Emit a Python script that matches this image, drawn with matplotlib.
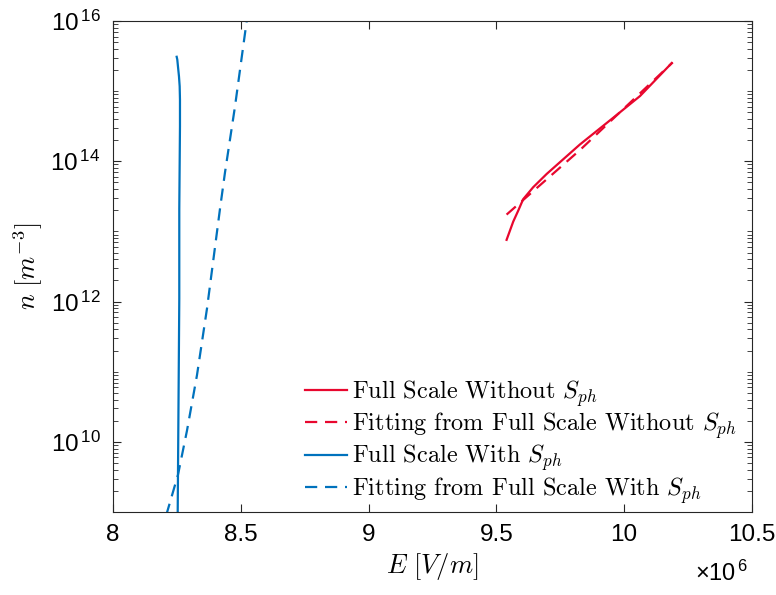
import numpy as np
import matplotlib
matplotlib.use("Agg")
import matplotlib.pyplot as plt
from matplotlib.ticker import FixedLocator, FuncFormatter, NullFormatter

plt.rcParams['mathtext.fontset'] = 'cm'
plt.rcParams['font.family'] = ['Liberation Sans', 'DejaVu Sans']

# electric field (V/m) and density (log10 of m^-3) for each curve
E_full_no_sph = [9.540e6, 9.553e6, 9.566e6, 9.586e6, 9.605e6, 9.644e6, 9.697e6,
                 9.827e6, 9.957e6, 10.062e6, 10.186e6]
logn_full_no_sph = [12.88, 13.01, 13.14, 13.30, 13.46, 13.63, 13.82,
                    14.24, 14.62, 14.93, 15.40]

E_fit_no_sph = [9.540e6, 9.830e6, 10.190e6]
logn_fit_no_sph = [13.24, 14.17, 15.41]

E_full_sph = [8.2531e6, 8.2594e6, 8.2594e6, 8.2621e6, 8.2621e6, 8.2609e6,
              8.2582e6, 8.2543e6, 8.2516e6, 8.2492e6]
logn_full_sph = [8.95, 12.04, 13.32, 14.50, 14.88, 15.07,
                 15.21, 15.35, 15.45, 15.49]

E_fit_sph = [8.2080e6, 8.2543e6, 8.2895e6, 8.3286e6, 8.3678e6, 8.4186e6,
             8.4382e6, 8.4773e6, 8.5250e6]
logn_fit_sph = [8.95, 9.53, 10.16, 10.95, 11.90, 13.32, 13.84, 14.78, 16.05]

red = '#E8072E'
blue = '#0072BD'
axis_col = '#262626'

fig = plt.figure(figsize=(7.76, 5.95), dpi=100)
ax = fig.add_axes([0.1456, 0.1395, 0.8234, 0.8252])

lw = 1.6
ax.plot(E_full_no_sph, 10 ** np.array(logn_full_no_sph), color=red, lw=lw,
        label=r'Full Scale Without $S_{ph}$')
ax.plot(E_fit_no_sph, 10 ** np.array(logn_fit_no_sph), color=red, lw=lw, dashes=(5.5, 3.5),
        label=r'Fitting from Full Scale Without $S_{ph}$')
ax.plot(E_full_sph, 10 ** np.array(logn_full_sph), color=blue, lw=lw,
        label=r'Full Scale With $S_{ph}$')
ax.plot(E_fit_sph, 10 ** np.array(logn_fit_sph), color=blue, lw=lw, dashes=(5.5, 3.5),
        label=r'Fitting from Full Scale With $S_{ph}$')

ax.set_yscale('log')
ax.set_xlim(8e6, 10.5e6)
ax.set_ylim(1e9, 1e16)

ax.xaxis.set_major_locator(FixedLocator(np.arange(8e6, 10.51e6, 0.5e6)))
ax.xaxis.set_major_formatter(FuncFormatter(lambda v, p: f'{v / 1e6:g}'))
ax.xaxis.set_minor_locator(FixedLocator([]))

majors = [1e10, 1e12, 1e14, 1e16]
minors = [k * 10.0 ** d for d in range(9, 16) for k in range(1, 10) if k * 10.0 ** d not in majors]
ax.yaxis.set_major_locator(FixedLocator(majors))
ax.yaxis.set_minor_locator(FixedLocator(minors))
ax.yaxis.set_major_formatter(FuncFormatter(
    lambda v, p: r'$\mathregular{10^{\,%d}}$' % round(np.log10(v))))
ax.yaxis.set_minor_formatter(NullFormatter())

ax.tick_params(which='both', direction='in', top=True, right=True,
               color=axis_col, labelsize=17.5, labelcolor='black')
ax.tick_params(which='major', length=6, width=0.8, pad=9)
ax.tick_params(which='minor', length=3.5, width=0.6)
for s in ax.spines.values():
    s.set_color(axis_col)
    s.set_linewidth(0.8)

ax.set_xlabel(r'$E\ [V/m]$', fontsize=19, labelpad=3)
ax.set_ylabel(r'$n\ [m^{-3}]$', fontsize=19, labelpad=4)

fig.text(0.964, 0.015, r'$\mathregular{\times10^{\,6}}$', ha='right', va='bottom', fontsize=17)

leg = ax.legend(loc='lower left', bbox_to_anchor=(0.30, 0.013), frameon=False,
                prop={'family': 'cmr10', 'size': 17.5}, handlelength=1.75,
                handletextpad=0.2, labelspacing=0.07, borderpad=0, borderaxespad=0)

fig.savefig('out.png', dpi=100)
